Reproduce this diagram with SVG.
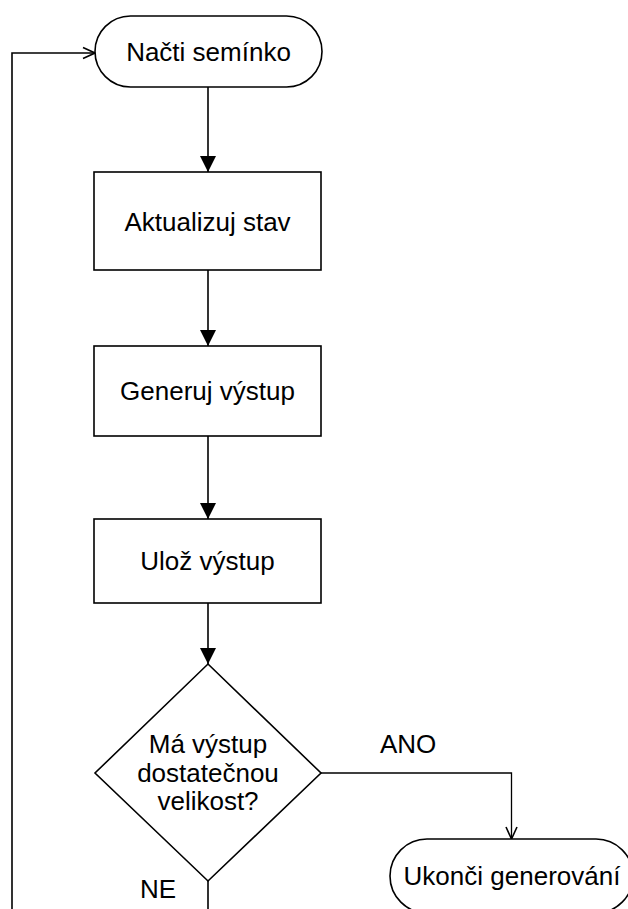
<svg xmlns="http://www.w3.org/2000/svg" width="628" height="909" viewBox="0 0 628 909">
  <style>
    .shape { fill: #ffffff; stroke: #000000; stroke-width: 1.6; }
    .conn { fill: none; stroke: #000000; stroke-width: 1.6; }
    .thin { fill: none; stroke: #000000; stroke-width: 1.3; }
    text { font-family: "Liberation Sans", Arial, sans-serif; font-size: 26px; fill: #000000; }
    .c { text-anchor: middle; }
  </style>
  <defs>
    <marker id="arrowFilled" viewBox="0 0 16 16" refX="16" refY="8" markerWidth="16" markerHeight="16" markerUnits="userSpaceOnUse" orient="auto">
      <path d="M0,0 L16,8 L0,16 z" fill="#000000"/>
    </marker>
    <marker id="arrowOpen" viewBox="0 0 14 14" refX="13" refY="7" markerWidth="14" markerHeight="14" markerUnits="userSpaceOnUse" orient="auto">
      <path d="M1,1.5 L13,7 L1,12.5" fill="none" stroke="#000000" stroke-width="1.6"/>
    </marker>
  </defs>

  <g id="connectors">
    <path class="conn" d="M208,87 L208,172" marker-end="url(#arrowFilled)"/>
    <path class="conn" d="M208,270 L208,346" marker-end="url(#arrowFilled)"/>
    <path class="conn" d="M208,436 L208,519" marker-end="url(#arrowFilled)"/>
    <path class="conn" d="M208,603 L208,664" marker-end="url(#arrowFilled)"/>
    <path class="thin" d="M321,773 L511.5,773 L511.5,839" marker-end="url(#arrowOpen)"/>
    <path class="conn" d="M208,881 L208,930 L12,930 L12,53 L95,53" marker-end="url(#arrowOpen)"/>
    <text x="380" y="753">ANO</text>
    <text x="140" y="898">NE</text>
  </g>

  <g id="start">
    <rect class="shape" x="95" y="16" width="227" height="71" rx="35.5" ry="35.5"/>
    <text class="c" x="208.5" y="61">Načti semínko</text>
  </g>

  <g id="update">
    <rect class="shape" x="94" y="172" width="227" height="98"/>
    <text class="c" x="207.5" y="230.5">Aktualizuj stav</text>
  </g>

  <g id="generate">
    <rect class="shape" x="94" y="346" width="227" height="90"/>
    <text class="c" x="207.5" y="400">Generuj výstup</text>
  </g>

  <g id="save">
    <rect class="shape" x="94" y="519" width="227" height="84"/>
    <text class="c" x="207.5" y="570">Ulož výstup</text>
  </g>

  <g id="decision">
    <polygon class="shape" points="208,664 321,773 208,881 95,773"/>
    <text class="c" x="208" y="753">Má výstup</text>
    <text class="c" x="208" y="781.5">dostatečnou</text>
    <text class="c" x="208" y="810">velikost?</text>
  </g>

  <g id="end">
    <rect class="shape" x="390" y="839" width="243" height="74" rx="37" ry="37"/>
    <text class="c" x="512" y="885">Ukonči generování</text>
  </g>
</svg>
